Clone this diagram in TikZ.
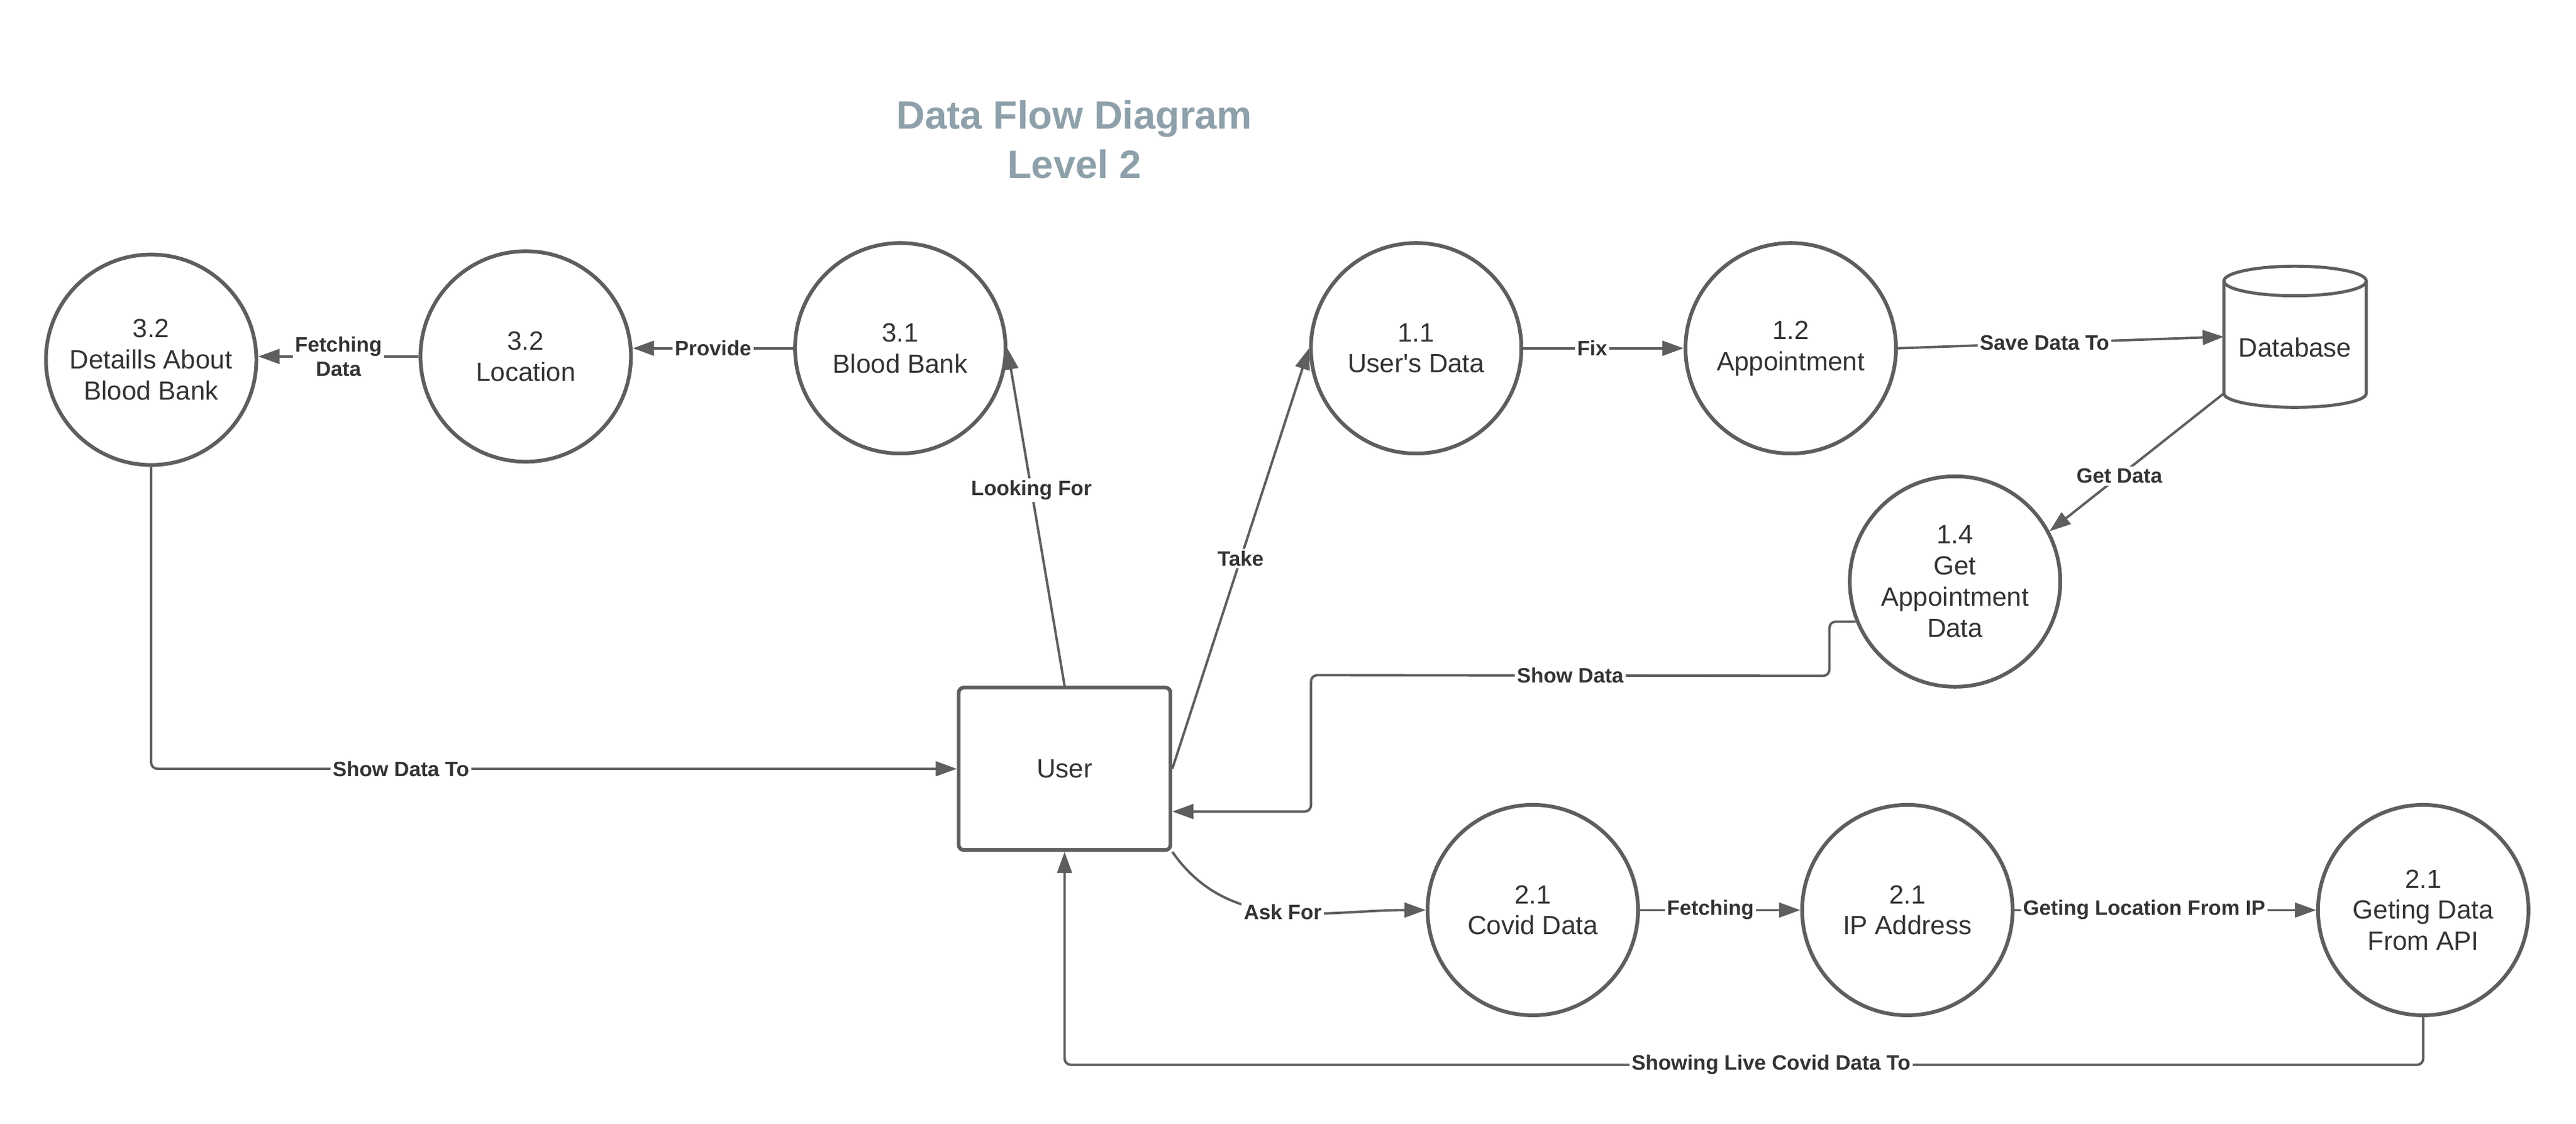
\documentclass[tikz,border=0pt]{standalone}
\usepackage{fontspec}
\setmainfont{Liberation Sans}
\usetikzlibrary{arrows.meta,calc}
\definecolor{linegray}{RGB}{94,94,94}
\definecolor{textgray}{RGB}{51,51,51}
\definecolor{titlegray}{RGB}{142,160,170}
\tikzset{
	process/.style  = {shape=circle, draw=linegray, line width=1.7pt,
		minimum size=33.7mm, inner sep=0pt, align=center,
		text=textgray, font=\fontsize{12}{14.2}\selectfont},
	entity/.style   = {process, shape=rectangle, rounded corners=0.8mm,
		minimum width=33.9mm, minimum height=26mm},
	store/.style    = {process, shape=rectangle, draw=none, outer sep=0pt,
		minimum width=22.8mm, minimum height=22.6mm},
	storeline/.style = {draw=linegray, line width=1.4pt},
	flow/.style     = {draw=linegray, line width=1.1pt,
		-{Triangle[length=3.4mm,width=2.35mm]}},
	flowlabel/.style = {fill=white, inner sep=1pt, text=textgray,
		font=\fontsize{9.5}{11.2}\selectfont\bfseries, align=center},
	heading/.style  = {text=titlegray, align=center,
		font=\fontsize{18}{22.4}\selectfont\bfseries}
}

\begin{document}
\begin{tikzpicture}[x=0.26307mm, y=-0.26307mm]
	\useasboundingbox (0,0) rectangle (1568,684);

	\node[heading] (title) at (654,85) {Data Flow Diagram\\Level 2};

	\node[process] (det)  at (92,219)   {3.2\\Detaills About\\Blood Bank};
	\node[process] (loc)  at (320,217)  {3.2\\Location};
	\node[process] (bb)   at (548,212)  {3.1\\Blood Bank};
	\node[process] (ud)   at (862,212)  {1.1\\User\textquotesingle s Data};
	\node[process] (app)  at (1090,212) {1.2\\Appointment};
	\node[store]   (db)   at (1397,205) {\raisebox{-1.75mm}[\height][\depth]{Database}};
	\node[process] (gad)  at (1190,354) {1.4\\Get\\Appointment\\Data};
	\node[entity]  (user) at (648,468)  {User};
	\node[process] (cov)  at (933,554)  {2.1\\Covid Data};
	\node[process] (ip)   at (1161,554) {2.1\\IP Address};
	\node[process] (api)  at (1475,554) {2.1\\Geting Data\\From API};

	\draw[storeline] ($(db.north west)+(0,9)$) -- ($(db.south west)+(0,-8.5)$)
		arc[start angle=180, end angle=360, x radius=11.4mm, y radius=2.24mm]
		-- ($(db.north east)+(0,9)$);
	\draw[storeline] ($(db.north)+(0,9)$) ellipse[x radius=11.4mm, y radius=2.37mm];

	\draw[flow] (loc.west) -- node[flowlabel] {Fetching\\Data} (loc.west -| det.east);
	\draw[flow] (bb.west) -- node[flowlabel] {Provide} (bb.west -| loc.east);
	\draw[flow] (user.north) -- node[flowlabel, pos=0.58] {Looking For} (bb.east);
	\draw[flow] (user.east) -- node[flowlabel, pos=0.5] {Take} (ud.west);
	\draw[flow] (ud.east) -- node[flowlabel, pos=0.43] {Fix} (app.west);
	\draw[flow] (app.east) -- node[flowlabel, pos=0.45] {Save Data To} (db.west);
	\draw[flow] ($(db.south west)+(0,-8.5)$) -- node[flowlabel, pos=0.6] {Get Data} (gad.28);
	\draw[flow, rounded corners=1mm] (gad.202) -- ++(-16,0) -- ++(0,33)
		-- node[flowlabel] {Show Data} (798,411) -- (798,494) -- (user.east |- 0,494);
	\draw[flow, rounded corners=1mm] (det.south) |- node[flowlabel, pos=0.655] {Show Data To} (user.west);
	\draw[flow] (user.south east) to[out=-55, in=180] node[flowlabel, pos=0.5] {Ask For} (cov.west);
	\draw[flow] (cov.east) -- node[flowlabel, pos=0.44] {Fetching} (ip.west);
	\draw[flow] (ip.east) -- node[flowlabel, pos=0.43] {Geting Location From IP} (api.west);
	\draw[flow, rounded corners=1mm] (api.south) -- ++(0,29)
		-| node[flowlabel, pos=0.24] {Showing Live Covid Data To} (user.south);
\end{tikzpicture}
\end{document}
